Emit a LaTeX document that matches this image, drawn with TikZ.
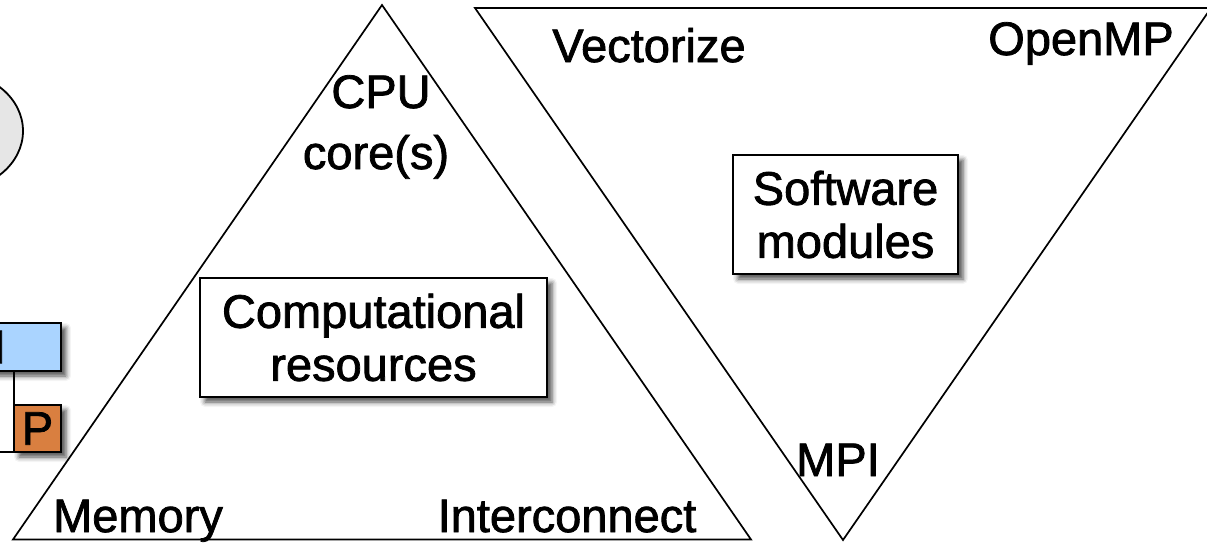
\documentclass[tikz,border=0pt]{standalone}
\usepackage{fontspec}
\setmainfont{Liberation Sans}
\newfontfamily\heavyface{Liberation Sans}[FakeBold=1.6]
\usetikzlibrary{shadows.blur}
\definecolor{mblue}{HTML}{AAD4FF}
\definecolor{porange}{HTML}{D97F40}
\definecolor{egray}{HTML}{E6E6E6}
\begin{document}
\begin{tikzpicture}[x=1pt,y=-1pt,
  big/.style={font=\heavyface\fontsize{47}{53}\selectfont, inner sep=0pt},
  lbl/.style={big, anchor=base},
  shad/.style={blur shadow={shadow xshift=5pt, shadow yshift=-5pt, shadow blur radius=5pt, shadow opacity=70}},
  tbox/.style={big, draw, line width=1.8pt, fill=white, align=center, minimum height=119pt, shad},
  sbox/.style={big, draw, line width=1.8pt, shad},
  tri/.style={line width=1.7pt, line join=miter},
]
\useasboundingbox (0,0) rectangle (1207,542);
% partial ellipse at left edge
\draw[line width=1.8pt, fill=egray] (-47,131) ellipse [x radius=70pt, y radius=59pt];
% triangles
\draw[tri] (382,5) -- (13,539.5) -- (751,539.5) -- cycle;
\draw[tri] (475,8) -- (1211,8) -- (843,540) -- cycle;
% M and P boxes
\node[sbox, fill=mblue, minimum width=150pt, minimum height=48pt] (M) at (-14,347) {M};
\coordinate (Pw) at (14,428.5);
\coordinate (offl) at (-20,452);
\draw[line width=1.4pt] (offl) -| (M.south -| Pw);
\node[sbox, fill=porange, minimum width=47pt, minimum height=47pt] (P) at (37.5,428.5) {P};
% text boxes
\node[tbox, minimum width=347pt] (comp) at (373.5,337.5) {Computational\\resources};
\node[tbox, minimum width=225pt] (soft) at (845.5,214.5) {Software\\modules};
% labels
\node[lbl] (cpu) at (381,108) {CPU};
\node[lbl] (cores) at (376,169) {core(s)};
\node[lbl] (vec) at (649,62) {Vectorize};
\node[lbl] (omp) at (1081,55) {OpenMP};
\node[lbl] (mpi) at (838,476) {MPI};
\node[lbl] (mem) at (138,532) {Memory};
\node[lbl] (ic) at (567,532) {Interconnect};
\end{tikzpicture}
\end{document}
